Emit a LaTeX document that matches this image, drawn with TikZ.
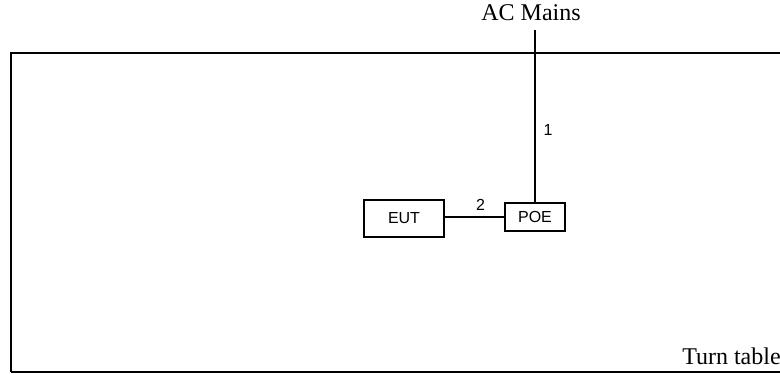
\documentclass[tikz,border=0pt]{standalone}
\usepackage{fontspec}
\setmainfont{Liberation Serif}
\newfontfamily\boxfont{Liberation Sans}
\usetikzlibrary{positioning}

\begin{document}
\begin{tikzpicture}[
    x=0.75pt, y=-0.75pt,
    unit/.style={draw, line width=1.1pt, align=center, font=\boxfont\fontsize{12}{14}\selectfont, inner sep=0pt},
    cable/.style={line width=1.1pt},
    num/.style={font=\boxfont\fontsize{12}{14}\selectfont, inner sep=1pt},
    caption/.style={font=\fontsize{18}{21}\selectfont, inner sep=0pt}
]
\useasboundingbox (0,0) rectangle (780,374);
\clip (0,0) rectangle (780,374);

% turn table
\draw[line width=1.1pt] (11,372) -- (11,53) -- (800,53);
\draw[line width=1.1pt] (11,372) -- (800,372);
\node[caption, anchor=base west] (turn) at (682,364) {Turn table};

% units
\node[unit, minimum width=60pt, minimum height=28pt] (eut) at (404,218.5) {EUT};
\node[unit, minimum width=45pt, minimum height=21pt] (poe) at (535,217) {POE};
\node[caption, anchor=base] (mains) at (531,21) {AC Mains};

% cables
\draw[cable] (eut.east |- poe.west) -- (poe.west) node[num, pos=0.6, above=3pt] (c2) {2};
\draw[cable] (poe.north) -- (poe.north |- 0,30) node[num, pos=0.42, right=5pt] (c1) {1};

\end{tikzpicture}
\end{document}
